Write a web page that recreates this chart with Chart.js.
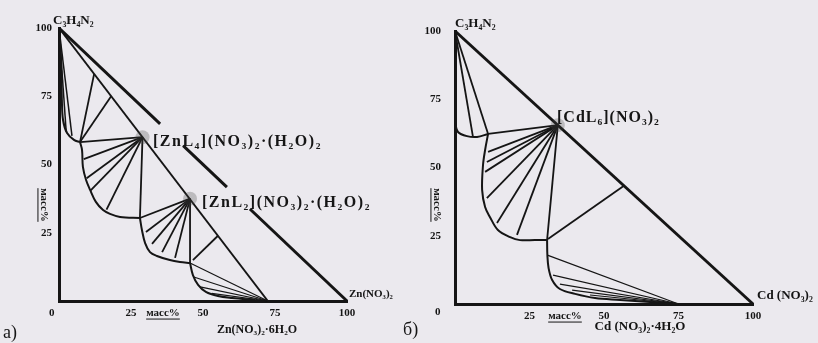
<!DOCTYPE html>
<html>
<head>
<meta charset="utf-8">
<script src="https://cdn.jsdelivr.net/npm/chart.js@4.4.1/dist/chart.umd.min.js"></script>
<style>
  html, body { margin: 0; padding: 0; }
  body { width: 818px; height: 343px; background: #ebe9ee; position: relative; overflow: hidden; }
  .panel { position: absolute; top: 0; height: 343px; }
  #panel-a { left: 0; width: 400px; }
  #panel-b { left: 400px; width: 418px; }
</style>
</head>
<body>
<div class="panel" id="panel-a"><canvas id="chart-a" width="400" height="343"></canvas></div>
<div class="panel" id="panel-b"><canvas id="chart-b" width="418" height="343"></canvas></div>
<script>
// ===================================================================
// Data (mass %, x = salt, y = C3H4N2)
// ===================================================================

const massTicks = [0, 25, 50, 75, 100];

// --- a) C3H4N2 – Zn(NO3)2 – H2O
const znLigand = [0, 100];
const znL4 = [29, 60];
const znL2 = [45.5, 37.5];
const znHydrate = [72.5, 0];

// outer side, broken where the labels sit
const znEdge = [
  [[0, 100], [35.1, 64.9]],
  [[43.1, 56.9], [58.3, 41.7]],
  [[66.3, 33.7], [100, 0]]
];
const znCurveLigand = [[0, 99.3], [0.7, 88.3], [1.0, 73.6], [1.4, 66.3], [2.8, 61.5], [5.2, 59.0], [7.3, 58.2]];
const znCurveL4 = [[7.3, 58.2], [8.0, 55.3], [8.3, 49.1], [9.4, 44.3], [10.8, 40.7], [12.8, 36.3], [15.3, 33.3], [17.7, 31.9], [21.2, 30.8], [28.1, 30.4]];
const znCurveL2 = [[28.1, 30.4], [28.8, 26.0], [29.9, 21.2], [31.6, 17.9], [34.0, 16.5], [38.5, 15.0], [42.0, 14.3], [45.5, 13.9]];
const znCurveHydrate = [[45.5, 13.9], [46.5, 9.5], [48.3, 5.9], [51.0, 3.3], [55.2, 1.8], [60.1, 1.1], [68.1, 0.4]];

// tie lines: ends of the rays that leave each solid phase
const znTiesLigand = [[2.5, 62], [4.5, 60.5]];
const znTiesEutectic = [[[7.3, 58.2], [12.2, 83.2]], [[7.3, 58.2], [18.1, 75]], [[7.3, 58.2], [29, 60]], [[28.1, 30.4], [45.5, 37.5]], [[46.5, 15], [55.2, 23.9]]];
const znTiesL4 = [[8.6, 52], [9.6, 45], [11, 40.5], [16.5, 33.5], [28.1, 30.4]];
const znTiesL2 = [[30.2, 25.3], [32.3, 20.9], [35.8, 17.9], [40.3, 15.8], [45.5, 13.9]];
const znTiesHydrate = [[45.5, 13.9], [46.8, 8.8], [49, 5.2], [53, 2.8]];

// --- б) C3H4N2 – Cd(NO3)2 – H2O
const cdLigand = [0, 100];
const cdL6 = [34.5, 65.5];
const cdHydrate = [75, 0];

const cdEdge = [[[0, 100], [100, 0]]];
const cdCurveLigand = [[0, 66.3], [1.0, 63.0], [4.0, 61.5], [7.4, 61.2], [11.1, 62.3]];
const cdCurveL6 = [[11.1, 62.3], [10.1, 56.4], [9.4, 50.9], [9.1, 41.8], [10.1, 35.5], [11.7, 31.9], [14.4, 27.1], [18.5, 24.5], [21.8, 23.4], [26.8, 23.4], [30.9, 23.4]];
const cdCurveHydrate = [[30.9, 23.4], [31.0, 17.9], [31.4, 13.2], [32.6, 8.8], [35.2, 5.5], [40.3, 3.7], [47.0, 2.2], [55.4, 1.5], [65.4, 0.7], [75, 0]];

const cdTiesLigand = [[6, 61.4], [11.1, 62.3]];
const cdTiesEutectic = [[[11.1, 62.3], [34.5, 65.5]], [[31.2, 23.8], [56.7, 43.3]]];
const cdTiesL6 = [[11.1, 55.7], [10.7, 52], [10.1, 48.4], [10.7, 38.8], [14.1, 29.7], [20.8, 25.3], [30.9, 23.4]];
const cdTiesHydrate = [[31.0, 17.9], [32.9, 10.6], [35.2, 7.3], [39.3, 5.1], [45.3, 3.3]];

// ===================================================================
// Helpers
// ===================================================================

const INK = '#151515';
const SERIF = '"Liberation Serif", "DejaVu Serif", serif';

const toXY = (pts) => pts.map(p => ({ x: p[0], y: p[1] }));

function lineSet(pts, width, dash) {
  return {
    data: toXY(pts),
    showLine: true,
    borderColor: INK,
    borderWidth: width,
    borderDash: dash || [],
    pointRadius: 0,
    tension: 0,
    clip: false
  };
}

function curveSet(pts, width) {
  const ds = lineSet(pts, width);
  ds.tension = 0.35;
  return ds;
}

function fan(from, ends, width) {
  return ends.map(e => lineSet([from, e], width));
}

function blobs(pts) {
  return {
    data: toXY(pts),
    pointRadius: 7,
    pointBackgroundColor: 'rgba(70,70,70,0.28)',
    pointBorderWidth: 0,
    clip: false
  };
}

function axisOptions(isX, pad) {
  return {
    type: 'linear',
    min: 0,
    max: 100,
    grid: { display: false, drawTicks: false },
    border: { display: true, color: INK, width: 3 },
    ticks: {
      stepSize: 25,
      padding: pad,
      color: INK,
      font: { family: SERIF, weight: 'bold', size: 11 },
      callback: (v) => (massTicks.includes(v) && v !== 0 ? String(v) : '')
    },
    afterFit: (scale) => {
      if (isX) scale.height = 30; else scale.width = 40;
    }
  };
}

// text annotations, in canvas pixels
const textPlugin = {
  id: 'texts',
  afterDraw(chart, args, opts) {
    const ctx = chart.ctx;
    for (const t of opts.items || []) {
      ctx.save();
      ctx.fillStyle = INK;
      ctx.strokeStyle = INK;
      ctx.font = `${t.weight || 'bold'} ${t.size}px ${SERIF}`;
      ctx.letterSpacing = t.spacing || '0px';
      ctx.textAlign = t.align || 'left';
      ctx.textBaseline = 'middle';
      ctx.translate(t.x, t.y);
      if (t.rotate) ctx.rotate(t.rotate);
      ctx.fillText(t.text, 0, 0);
      if (t.underline) {
        const w = ctx.measureText(t.text).width;
        const x0 = t.align === 'center' ? -w / 2 : 0;
        ctx.lineWidth = 1;
        ctx.beginPath();
        ctx.moveTo(x0, t.size * 0.55);
        ctx.lineTo(x0 + w, t.size * 0.55);
        ctx.stroke();
      }
      ctx.restore();
    }
  }
};

function makeChart(canvasId, datasets, padding, yPad, items) {
  const ctx = document.getElementById(canvasId).getContext('2d');
  return new Chart(ctx, {
    type: 'scatter',
    data: { datasets },
    options: {
      responsive: false,
      animation: false,
      devicePixelRatio: 1,
      layout: { padding },
      plugins: {
        legend: { display: false },
        tooltip: { enabled: false },
        texts: { items }
      },
      scales: {
        x: axisOptions(true, 6),
        y: axisOptions(false, yPad)
      }
    },
    plugins: [textPlugin]
  });
}

// ===================================================================
// Panel a
// ===================================================================

const datasetsA = [
  blobs([znL4, znL2]),
  ...znEdge.map(s => lineSet(s, 3)),
  lineSet([znLigand, znHydrate], 2),
  curveSet(znCurveLigand, 2),
  curveSet(znCurveL4, 2),
  curveSet(znCurveL2, 2),
  curveSet(znCurveHydrate, 2),
  ...fan(znLigand, znTiesLigand, 1.5),
  ...znTiesEutectic.map(s => lineSet(s, 1.8)),
  ...fan(znL4, znTiesL4, 1.8),
  ...fan(znL2, znTiesL2, 1.8),
  ...fan(znHydrate, znTiesHydrate, 1.2)
];

makeChart('chart-a', datasetsA, { left: 19, top: 28, right: 53, bottom: 12 }, 7, [
  { text: 'C₃H₄N₂', x: 53, y: 21, size: 13 },
  { text: '[ZnL₄](NO₃)₂·(H₂O)₂', x: 153, y: 142, size: 16, spacing: '1.5px' },
  { text: '[ZnL₂](NO₃)₂·(H₂O)₂', x: 202, y: 203, size: 16, spacing: '1.5px' },
  { text: 'Zn(NO₃)₂', x: 349, y: 294, size: 11 },
  { text: 'Zn(NO₃)₂·6H₂O', x: 257, y: 330, size: 12, align: 'center' },
  { text: 'масс%', x: 163, y: 313, size: 11, align: 'center', underline: true },
  { text: 'масс%', x: 44, y: 205, size: 11, align: 'center', underline: true, rotate: Math.PI / 2 },
  { text: '0', x: 49, y: 313, size: 11 },
  { text: 'a)', x: 3, y: 333, size: 18, weight: 'normal' }
]);

// ===================================================================
// Panel б
// ===================================================================

const datasetsB = [
  blobs([cdL6]),
  ...cdEdge.map(s => lineSet(s, 3)),
  curveSet(cdCurveLigand, 2),
  curveSet(cdCurveL6, 2),
  curveSet(cdCurveHydrate, 2),
  ...fan(cdLigand, cdTiesLigand, 1.8),
  ...cdTiesEutectic.map(s => lineSet(s, 1.8)),
  ...fan(cdL6, cdTiesL6, 1.8),
  ...fan(cdHydrate, cdTiesHydrate, 1.2)
];

makeChart('chart-b', datasetsB, { left: 15, top: 31, right: 65, bottom: 9 }, 14, [
  { text: 'C₃H₄N₂', x: 55, y: 24, size: 13 },
  { text: '[CdL₆](NO₃)₂', x: 157, y: 118, size: 16, spacing: '1px' },
  { text: 'Cd (NO₃)₂', x: 357, y: 296, size: 13 },
  { text: 'Cd (NO₃)₂·4H₂O', x: 240, y: 327, size: 13, align: 'center' },
  { text: 'масс%', x: 165, y: 316, size: 11, align: 'center', underline: true },
  { text: 'масс%', x: 37, y: 205, size: 11, align: 'center', underline: true, rotate: Math.PI / 2 },
  { text: '0', x: 35, y: 312, size: 11 },
  { text: 'б)', x: 3, y: 330, size: 18, weight: 'normal' }
]);
</script>
</body>
</html>
